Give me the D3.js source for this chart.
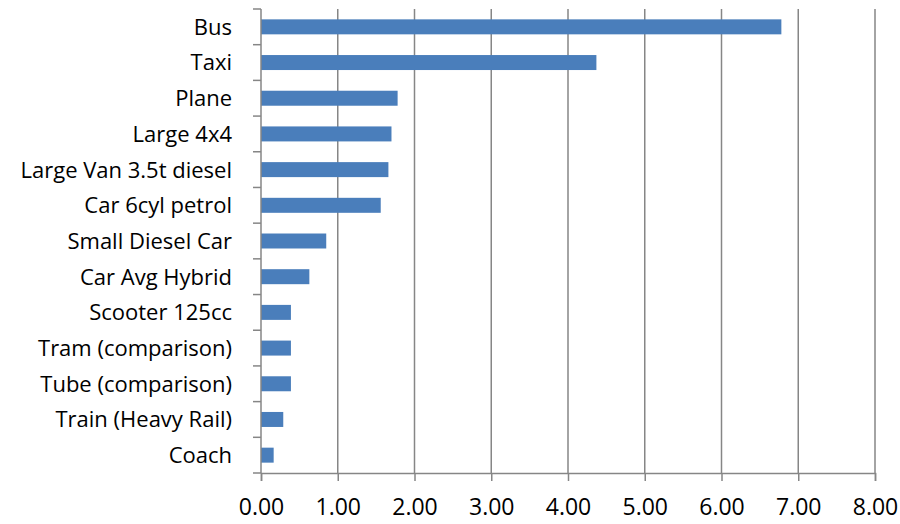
<!DOCTYPE html>
<html><head><meta charset="utf-8">
<script src="https://cdn.jsdelivr.net/npm/d3@7"></script>
<style>body{margin:0;background:#fff}</style>
</head><body><svg id="c" width="900" height="524"></svg>
<script>
const categories = ["Bus","Taxi","Plane","Large 4x4","Large Van 3.5t diesel","Car 6cyl petrol","Small Diesel Car","Car Avg Hybrid","Scooter 125cc","Tram (comparison)","Tube (comparison)","Train (Heavy Rail)","Coach"];
const values = [6.78,4.37,1.78,1.70,1.66,1.56,0.85,0.63,0.39,0.39,0.39,0.29,0.165];
const xTicks = [0,1,2,3,4,5,6,7,8];

(function(){
const svg = d3.select("#c");
const pL = 261, pR = 875, pT = 9, pB = 473;
const font = "'Open Sans', sans-serif";
const x = d3.scaleLinear().domain([0,8]).range([pL,pR]);
const y = d3.scaleBand().domain(categories).range([pT,pB]).paddingInner(0.58).paddingOuter(0.29);

svg.append("g").selectAll("line").data(xTicks.slice(1)).join("line")
  .attr("x1",d=>x(d)).attr("x2",d=>x(d)).attr("y1",pT).attr("y2",pB)
  .attr("stroke","#868686").attr("stroke-width",1.5);

svg.append("g").selectAll("rect").data(categories).join("rect")
  .attr("x",x(0)).attr("y",d=>y(d)).attr("height",y.bandwidth())
  .attr("width",(d,i)=>x(values[i])-x(0)).attr("fill","#4a7ebb");

const xa = svg.append("g").attr("transform",`translate(0,${pB})`)
  .call(d3.axisBottom(x).tickValues(xTicks).tickFormat(d3.format(".2f")).tickSize(8).tickPadding(18));
xa.select(".domain").attr("stroke","#868686").attr("stroke-width",1.5);
xa.selectAll(".tick line").attr("stroke","#868686").attr("stroke-width",1.5);
xa.selectAll("text").attr("font-family",font).attr("font-size",23).attr("fill","#000");

const step = (pB-pT)/categories.length;
const ya = svg.append("g");
ya.append("line").attr("x1",pL).attr("x2",pL).attr("y1",pT).attr("y2",pB)
  .attr("stroke","#868686").attr("stroke-width",1.5);
ya.selectAll("line.t").data(d3.range(categories.length+1)).join("line").attr("class","t")
  .attr("x1",pL-8).attr("x2",pL).attr("y1",i=>pT+i*step).attr("y2",i=>pT+i*step)
  .attr("stroke","#868686").attr("stroke-width",1.5);
ya.selectAll("text").data(categories).join("text")
  .attr("x",232).attr("y",d=>y(d)+y.bandwidth()/2).attr("dy","0.36em")
  .attr("text-anchor","end").attr("font-family",font).attr("font-size",22).attr("fill","#000")
  .text(d=>d);
})();
</script></body></html>
